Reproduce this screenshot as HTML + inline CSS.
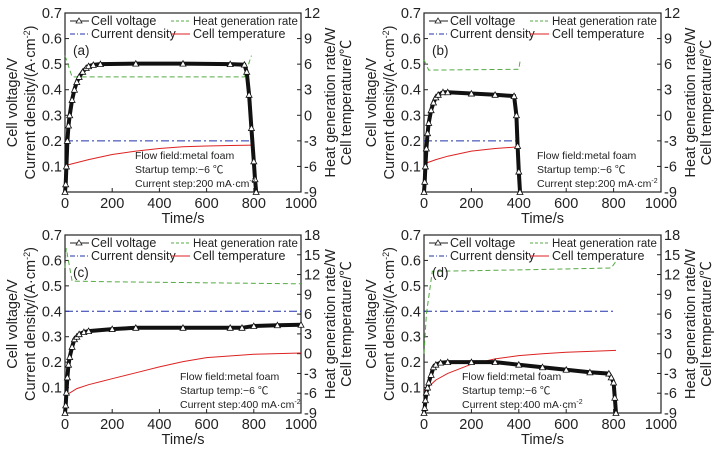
<!DOCTYPE html>
<html><head><meta charset="utf-8">
<style>
body{margin:0;background:#fff;}
svg{display:block;font-family:"Liberation Sans","Noto Sans CJK SC",sans-serif;}
</style></head>
<body>
<svg id="chart" width="719" height="452" viewBox="0 0 719 452" xmlns="http://www.w3.org/2000/svg"></svg>
<script>
// ---- data (panel a) ----
const aVt=[0,3,6,10,15,20,30,40,50,60,75,90,100,120,150,300,500,700,760,770,780,790,800,805,810];
const aVv=[0,0.03,0.1,0.2,0.26,0.3,0.36,0.4,0.43,0.45,0.47,0.485,0.492,0.497,0.5,0.502,0.502,0.5,0.498,0.47,0.38,0.25,0.12,0.05,0];
const aCt=[0,800]; const aCv=[0.2,0.2];
const aHt=[0,30,760,790]; const aHv=[7,4.5,4.5,7];
const aTt=[0,100,200,300,400,500,600,700,800]; const aTv=[-5.9,-5.2,-4.6,-4.2,-3.9,-3.7,-3.6,-3.55,-3.5];
// ---- data (panel b) ----
const bVt=[0,3,6,10,15,20,30,40,50,60,80,100,200,300,380,390,395,400,405];
const bVv=[0,0.04,0.1,0.17,0.23,0.27,0.32,0.35,0.37,0.38,0.39,0.39,0.385,0.38,0.375,0.3,0.18,0.08,0];
const bCt=[0,400]; const bCv=[0.2,0.2];
const bHt=[0,20,400,405]; const bHv=[6.5,5.3,5.4,6.3];
const bTt=[0,50,100,200,300,400]; const bTv=[-5.7,-5.2,-4.8,-4.2,-3.9,-3.7];
// ---- data (panel c) ----
const cVt=[0,3,6,10,15,20,30,40,50,60,80,100,200,300,500,700,750,800,900,1000];
const cVv=[0,0.03,0.08,0.14,0.19,0.22,0.26,0.29,0.3,0.31,0.318,0.322,0.33,0.335,0.335,0.335,0.335,0.342,0.345,0.347];
const cCt=[0,1000]; const cCv=[0.4,0.4];
const cHt=[0,5,30,200,1000]; const cHv=[13,16,11,10.9,10.6];
const cTt=[0,50,100,200,300,400,500,600,800,1000]; const cTv=[-6.4,-5.3,-4.7,-3.8,-2.9,-2,-1.2,-0.6,-0.1,0.1];
// ---- data (panel d) ----
const dVt=[0,3,6,10,15,20,30,40,50,70,100,200,300,400,500,600,700,780,790,800,805,810];
const dVv=[0,0.02,0.05,0.08,0.1,0.12,0.15,0.18,0.19,0.198,0.2,0.2,0.2,0.19,0.18,0.17,0.16,0.155,0.14,0.12,0.06,0];
const dCt=[0,800]; const dCv=[0.4,0.4];
const dHt=[0,10,35,400,790,810]; const dHv=[0,6,12.5,12.7,13,14];
const dTt=[0,20,50,100,200,300,400,500,600,700,810]; const dTv=[-5.6,-5,-4,-3,-1.6,-0.8,-0.3,0,0.2,0.35,0.5];

const xTicks=[0,200,400,600,800,1000];
const yTicks=[0.1,0.2,0.3,0.4,0.5,0.6,0.7];
const rTicksAB=[-9,-6,-3,0,3,6,9,12];
const rTicksCD=[-9,-6,-3,0,3,6,9,12,15,18];

const NS="http://www.w3.org/2000/svg";
const svg=document.getElementById('chart');
function el(tag,attrs,parent,text){const e=document.createElementNS(NS,tag);for(const k in attrs)e.setAttribute(k,attrs[k]);if(text!==undefined)e.textContent=text;(parent||svg).appendChild(e);return e;}

const panels=[
 {id:'a',L:65,R:301,T:13,B:192,rmin:-9,rmax:12,rt:rTicksAB,V:[aVt,aVv],C:[aCt,aCv],H:[aHt,aHv],Tm:[aTt,aTv],step:'200'},
 {id:'b',L:424,R:661,T:13,B:192,rmin:-9,rmax:12,rt:rTicksAB,V:[bVt,bVv],C:[bCt,bCv],H:[bHt,bHv],Tm:[bTt,bTv],step:'200'},
 {id:'c',L:65,R:301,T:235,B:413,rmin:-9,rmax:18,rt:rTicksCD,V:[cVt,cVv],C:[cCt,cCv],H:[cHt,cHv],Tm:[cTt,cTv],step:'400'},
 {id:'d',L:424,R:661,T:235,B:413,rmin:-9,rmax:18,rt:rTicksCD,V:[dVt,dVv],C:[dCt,dCv],H:[dHt,dHv],Tm:[dTt,dTv],step:'400'}
];
const FS=14.5;

panels.forEach(p=>{
 const g=el('g',{});
 
 
 const x=t=>p.L+(t/1000)*(p.R-p.L);
 const y=v=>p.B-(v/0.7)*(p.B-p.T);
 const yr=v=>p.B-((v-p.rmin)/(p.rmax-p.rmin))*(p.B-p.T);
 const pts=(arr,fy)=>arr[0].map((t,i)=>x(t).toFixed(1)+','+fy(arr[1][i]).toFixed(1)).join(' ');
 const fr=el('rect',{x:p.L,y:p.T,width:p.R-p.L,height:p.B-p.T,fill:'none',stroke:'#222','stroke-width':1.2},g);
 
 
 xTicks.forEach(t=>{
  el('line',{x1:x(t),x2:x(t),y1:p.B,y2:p.B-4,stroke:'#222'},g);
  const tl=el('text',{x:x(t),y:p.B+16,'font-size':FS,'text-anchor':'middle',fill:'#222'},g,String(t));
  
  
 });
 const xt=el('text',{x:(p.L+p.R)/2,y:p.B+31,'font-size':FS,'text-anchor':'middle',fill:'#222'},g,'Time/s');
 
 
 yTicks.forEach(v=>{
  el('line',{x1:p.L,x2:p.L+4,y1:y(v),y2:y(v),stroke:'#222'},g);
  const tl=el('text',{x:p.L-3,y:y(v)+5,'font-size':FS,'text-anchor':'end',fill:'#222'},g,v.toFixed(1));
  
  
 });
 p.rt.forEach(v=>{
  el('line',{x1:p.R,x2:p.R-4,y1:yr(v),y2:yr(v),stroke:'#222'},g);
  const tl=el('text',{x:p.R+3,y:yr(v)+5,'font-size':FS,'text-anchor':'start',fill:'#222'},g,String(v));
  
  
 });
 const cy=(p.T+p.B)/2;
 const lx=p.L-48, lx2=p.L-30;
 const t1=el('text',{x:lx,y:cy,'font-size':FS,'text-anchor':'middle',transform:`rotate(-90 ${lx} ${cy})`,fill:'#222'},g,'Cell voltage/V');
 
 
 const t2=el('text',{x:lx2,y:cy,'font-size':FS,'text-anchor':'middle',transform:`rotate(-90 ${lx2} ${cy})`,fill:'#222'},g);
 t2.innerHTML='Current density/(A·cm<tspan font-size="9" dy="-5">-2</tspan><tspan dy="5">)</tspan>';
 
 
 const rx=p.R+34, rx2=p.R+50;
 const t3=el('text',{x:rx,y:cy,'font-size':FS,'text-anchor':'middle',transform:`rotate(-90 ${rx} ${cy})`,fill:'#222'},g,'Heat generation rate/W');
 
 
 const t4=el('text',{x:rx2,y:cy,'font-size':FS,'text-anchor':'middle',transform:`rotate(-90 ${rx2} ${cy})`,fill:'#222'},g,'Cell temperature/℃');
 
 
 const cd=el('polyline',{points:pts(p.C,y),fill:'none',stroke:'#2233aa','stroke-width':1,'stroke-dasharray':'8 3 2 3'},g);
 
 
 const hg=el('polyline',{points:pts(p.H,yr),fill:'none',stroke:'#55aa44','stroke-width':1,'stroke-dasharray':'5 3'},g);
 
 
 const tm=el('polyline',{points:pts(p.Tm,yr),fill:'none',stroke:'#dd2222','stroke-width':1},g);
 
 
 const cv=el('polyline',{points:pts(p.V,y),fill:'none',stroke:'#111','stroke-width':4},g);
 
 
 p.V[0].forEach((t,i)=>{
  const px=x(t),py=y(p.V[1][i]);
  const m=el('polygon',{points:`${px},${py-3} ${px-3},${py+2.5} ${px+3},${py+2.5}`,fill:'#fff',stroke:'#111','stroke-width':0.8},g);
  
  
 });
 const lg=el('g',{},g);
 
 
 const ly1=p.T+12, ly2=p.T+25;
 el('line',{x1:p.L+5,x2:p.L+24,y1:ly1-4,y2:ly1-4,stroke:'#222'},lg);
 el('polygon',{points:`${p.L+14},${ly1-7} ${p.L+11},${ly1-2} ${p.L+17},${ly1-2}`,fill:'#fff',stroke:'#222','stroke-width':0.8},lg);
 el('text',{x:p.L+26,y:ly1,'font-size':12.5,fill:'#222'},lg,'Cell voltage');
 el('line',{x1:p.L+5,x2:p.L+24,y1:ly2-4,y2:ly2-4,stroke:'#2233aa','stroke-dasharray':'5 2 1 2'},lg);
 el('text',{x:p.L+26,y:ly2,'font-size':12.5,fill:'#222'},lg,'Current density');
 el('line',{x1:p.L+106,x2:p.L+125,y1:ly1-4,y2:ly1-4,stroke:'#55aa44','stroke-dasharray':'3 2'},lg);
 el('text',{x:p.L+128,y:ly1,'font-size':11.5,fill:'#222'},lg,'Heat generation rate');
 el('line',{x1:p.L+106,x2:p.L+125,y1:ly2-4,y2:ly2-4,stroke:'#dd2222'},lg);
 el('text',{x:p.L+128,y:ly2,'font-size':12.5,fill:'#222'},lg,'Cell temperature');
 const pl=el('text',{x:p.L+8,y:p.T+42,'font-size':13.5,fill:'#222'},g,'('+p.id+')');
 
 
 const an=el('g',{},g);
 
 
 const ax=p.id==='a'?p.L+70:(p.id==='b'?p.L+113:(p.id==='c'?p.L+115:p.L+38));
 el('text',{x:ax,y:p.B-33,'font-size':10.5,fill:'#222'},an,'Flow field:metal foam');
 el('text',{x:ax,y:p.B-19,'font-size':10.5,fill:'#222'},an,'Startup temp:−6 ℃');
 const at=el('text',{x:ax,y:p.B-5,'font-size':10.5,fill:'#222'},an);
 at.innerHTML='Current step:'+p.step+' mA·cm<tspan font-size="7" dy="-4">-2</tspan>';
});
</script>
</body></html>
